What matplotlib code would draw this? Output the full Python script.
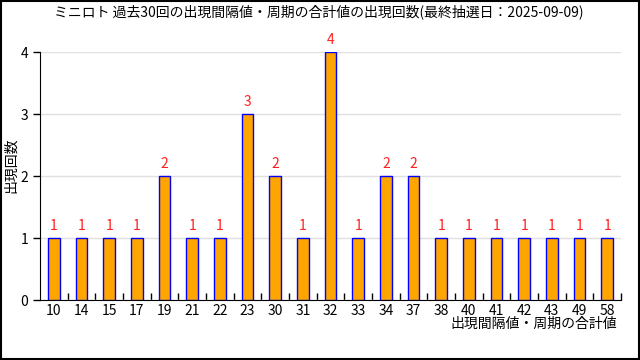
import matplotlib
matplotlib.use("Agg")
import matplotlib.pyplot as plt
from matplotlib.patches import Rectangle
from matplotlib.ticker import FixedLocator

plt.rcParams['font.family'] = ['Noto Sans CJK JP', 'DejaVu Sans']

categories = ["10", "14", "15", "17", "19", "21", "22", "23", "30", "31", "32",
              "33", "34", "37", "38", "40", "41", "42", "43", "49", "58"]
counts = [1, 1, 1, 1, 2, 1, 1, 3, 2, 1, 4, 1, 2, 2, 1, 1, 1, 1, 1, 1, 1]

title = "ミニロト 過去30回の出現間隔値・周期の合計値の出現回数(最終抽選日：2025-09-09)"

fig = plt.figure(figsize=(6.4, 3.6), dpi=100)
ax = fig.add_axes([40 / 640, 1 - 300 / 360, 581 / 640, 248 / 360])

xs = list(range(len(categories)))
ax.bar(xs, counts, width=0.43, color="#ffa500", edgecolor="#0000ff", linewidth=1, zorder=3)
for x, v in zip(xs, counts):
    ax.text(x, v + 0.08, str(v), ha="center", va="bottom", color="#ff2020", fontsize=10)

ax.set_xlim(-0.5, len(categories) - 0.5)
ax.set_ylim(0, 4)
ax.set_yticks([0, 1, 2, 3, 4])
ax.set_xticks(xs)
ax.set_xticklabels(categories, fontsize=10)
ax.xaxis.set_minor_locator(FixedLocator([x + 0.5 for x in xs]))
ax.tick_params(axis="x", which="major", length=0, pad=3)
ax.tick_params(axis="x", which="minor", direction="in", length=5, width=1)
ax.tick_params(axis="y", labelsize=10, length=5, width=1)
ax.grid(axis="y", color="#e0e0e0", linewidth=1, zorder=0)
for s in ("top", "right"):
    ax.spines[s].set_visible(False)

fig.text(11 / 640, 1 - 165 / 360, "出現回数", rotation=90, ha="center", va="center", fontsize=10)
fig.text(617 / 640, 1 - 324 / 360, "出現間隔値・周期の合計値", ha="right", va="center", fontsize=10)
fig.text(319 / 640, 1 - 12 / 360, title, ha="center", va="center", fontsize=10)

fig.patches.append(Rectangle((0.001, 0.002), 0.997, 0.995, transform=fig.transFigure,
                             fill=False, edgecolor="black", linewidth=1.5))

fig.savefig("out.png", dpi=100)
